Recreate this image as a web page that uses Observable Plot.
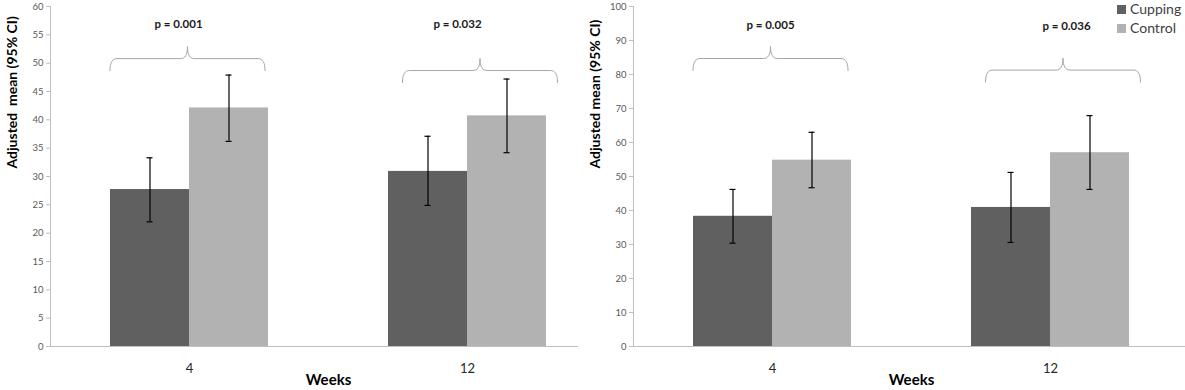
<!DOCTYPE html>
<html>
<head>
<meta charset="utf-8">
<script src="https://cdn.jsdelivr.net/npm/d3@7"></script>
<script src="https://cdn.jsdelivr.net/npm/@observablehq/plot@0.6"></script>
<style>
  html, body { margin: 0; padding: 0; background: #fff; }
  #wrap { position: relative; width: 1185px; height: 390px; overflow: hidden; font-family: Lato, "Open Sans", sans-serif; }
  .pane { position: absolute; top: 0; height: 390px; overflow: hidden; }
  #legend { position: absolute; left: 1117px; top: 2px; font-size: 14px; color: #404040; line-height: 14px; }
  #legend div + div { margin-top: 5px; }
  #legend .sw { display: inline-block; width: 9px; height: 9px; margin-right: 4px; vertical-align: 0px; }
</style>
</head>
<body>
<div id="wrap">
  <div class="pane" id="left" style="left:0;width:578px"></div>
  <div class="pane" id="right" style="left:580px;width:605px"></div>
  <div id="legend"></div>
</div>
<script>
// ---------- data ----------
const weeks = ["4", "12"];
const groups = ["Cupping", "Control"];
const colors = ["#606060", "#b2b2b2"];

// Panel A (left)
const aCupMean = [27.7, 30.9];
const aCupLo   = [22.0, 24.9];
const aCupHi   = [33.3, 37.1];
const aConMean = [42.1, 40.7];
const aConLo   = [36.2, 34.2];
const aConHi   = [47.9, 47.2];
const aPLabels = ["p = 0.001", "p = 0.032"];
const aBraceLevel = [50.8, 48.7];
const aPLevel = [56.8, 56.9];
const aYMax = 60, aYStep = 5;

// Panel B (right)
const bCupMean = [38.3, 40.9];
const bCupLo   = [30.4, 30.6];
const bCupHi   = [46.2, 51.2];
const bConMean = [54.8, 57.0];
const bConLo   = [46.7, 46.2];
const bConHi   = [63.0, 67.9];
const bPLabels = ["p = 0.005", "p = 0.036"];
const bBraceLevel = [84.7, 81.3];
const bPLevel = [94.5, 94.3];
const bYMax = 100, bYStep = 10;

const yLabel = "Adjusted\u00a0 mean (95% CI)";
const yLabelB = "Adjusted mean (95% CI)";
const xLabel = "Weeks";

// ---------- layout constants ----------
const H = 390, MT = 6, MB = 44;
const STEP = 278;            // px per week category
const BARPX = 79;            // px per bar
const CAPPX = 3;             // half width of error caps
const BRACE_HALF = 77.5, BRACE_R = 7, BRACE_RISE = 12;
const braceShift = [-2, 12.5];
const font = "Lato, 'Open Sans', sans-serif";

function panel(opts) {
  const {cup, con, pLabels, braceLevel, pLevel, pShift, yMax, yStep, marginLeft, label} = opts;
  const plotH = H - MT - MB;
  const W = marginLeft + 2 * STEP;
  const bw = BARPX / STEP;
  const upx = yMax / plotH;
  const rows = [];
  weeks.forEach((wk, i) => groups.forEach((g, j) => {
    const s = j ? con : cup;
    const x1 = i + 0.5 + (j - 1) * bw;
    rows.push({week: wk, group: g, mean: s.mean[i], lo: s.lo[i], hi: s.hi[i], x1, x2: x1 + bw, xc: x1 + bw / 2});
  }));
  const caps = rows.flatMap(d => [d.lo, d.hi].map(y => ({y, x1: d.xc - CAPPX / STEP, x2: d.xc + CAPPX / STEP})));

  // curly braces
  const quad = (p0, c, p1, n = 8) => d3.range(n + 1).map(k => {
    const t = k / n, u = 1 - t;
    return [u*u*p0[0] + 2*u*t*c[0] + t*t*p1[0], u*u*p0[1] + 2*u*t*c[1] + t*t*p1[1]];
  });
  const braces = [];
  weeks.forEach((wk, i) => {
    const half = [
      ...quad([-BRACE_HALF, -BRACE_RISE], [-BRACE_HALF, 0], [-BRACE_HALF + BRACE_R, 0]),
      ...quad([-BRACE_R, 0], [0, 0], [0, BRACE_RISE])
    ];
    const full = [...half, ...half.slice().reverse().map(([x, y]) => [-x, y])];
    const xc = i + 0.5 + braceShift[i] / STEP;
    full.forEach(([px, py]) => braces.push({week: wk, x: xc + px / STEP, y: braceLevel[i] + py * upx}));
  });
  const pRows = weeks.map((wk, i) => ({x: i + 0.5 + pShift[i] / STEP, y: pLevel[i], text: pLabels[i]}));

  return Plot.plot({
    width: W, height: H,
    marginLeft, marginRight: 0, marginTop: MT, marginBottom: MB,
    style: {maxWidth: "none", fontFamily: font, background: "white", overflow: "visible"},
    x: {domain: [0, 2]},
    y: {domain: [0, yMax]},
    color: {domain: groups, range: colors},
    marks: [
      Plot.axisY({ticks: d3.range(0, yMax + yStep / 2, yStep), tickSize: 4, tickPadding: 3, stroke: "#bfbfbf", fill: "#595959", fontSize: 9.5, label: null}),
      Plot.axisX({ticks: [0.5, 1.5], tickFormat: d => weeks[Math.floor(d)], tickSize: 0, tickPadding: 17, fontSize: 13, fill: "#262626", label: null}),
      Plot.rectY(rows, {x1: "x1", x2: "x2", y: "mean", fill: "group"}),
      Plot.ruleY([0], {stroke: "#bfbfbf"}),
      Plot.ruleX([0], {stroke: "#bfbfbf"}),
      Plot.ruleX(rows, {x: "xc", y1: "lo", y2: "hi", stroke: "#000", strokeWidth: 1.2}),
      Plot.ruleY(caps, {y: "y", x1: "x1", x2: "x2", stroke: "#000", strokeWidth: 1.2}),
      Plot.line(braces, {x: "x", y: "y", z: "week", stroke: "#a6a6a6", strokeWidth: 1}),
      Plot.text(pRows, {x: "x", y: "y", text: "text", fontWeight: "bold", fontSize: 11.5, fill: "#1a1a1a"}),
      Plot.text([label], {frameAnchor: "left", rotate: -90, dx: -38, dy: -8, fontWeight: "bold", fontSize: 14, fill: "#000"}),
      Plot.text([xLabel], {frameAnchor: "bottom", dy: 38, fontWeight: "bold", fontSize: 15, fill: "#000"})
    ]
  });
}

document.getElementById("left").append(panel({
  cup: {mean: aCupMean, lo: aCupLo, hi: aCupHi},
  con: {mean: aConMean, lo: aConLo, hi: aConHi},
  pLabels: aPLabels, braceLevel: aBraceLevel, pLevel: aPLevel, pShift: [-11, -10],
  yMax: aYMax, yStep: aYStep, marginLeft: 50, label: yLabel
}));
document.getElementById("right").append(panel({
  cup: {mean: bCupMean, lo: bCupLo, hi: bCupHi},
  con: {mean: bConMean, lo: bConLo, hi: bConHi},
  pLabels: bPLabels, braceLevel: bBraceLevel, pLevel: bPLevel, pShift: [-2, 16],
  yMax: bYMax, yStep: bYStep, marginLeft: 53, label: yLabelB
}));

const legend = document.getElementById("legend");
groups.forEach((g, j) => {
  const row = document.createElement("div");
  const sw = document.createElement("span");
  sw.className = "sw";
  sw.style.background = colors[j];
  row.append(sw, document.createTextNode(g));
  legend.append(row);
});
</script>
</body>
</html>
